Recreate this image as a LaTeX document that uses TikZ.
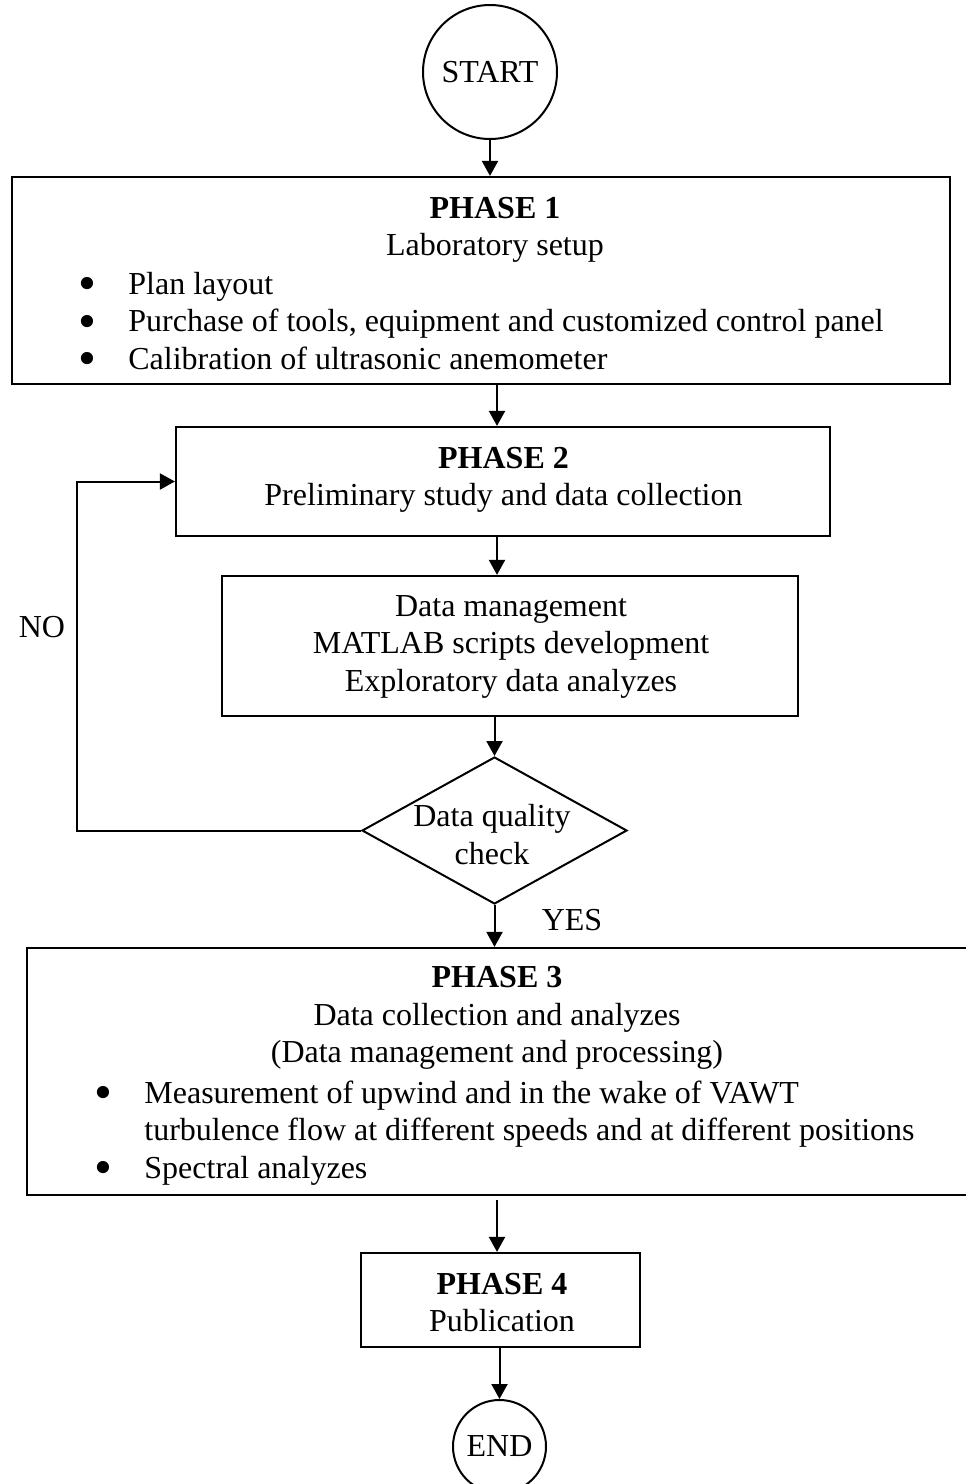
\documentclass[tikz,border=0pt]{standalone}
\usepackage{fontspec}
\setmainfont{Liberation Serif}
\usetikzlibrary{positioning,shapes.geometric,arrows.meta}

\newcommand{\itm}{\makebox[24.8pt][l]{\smash{\raisebox{-0.2em}{\scalebox{1.6}{\textbullet}}}}}

\begin{document}
\begin{tikzpicture}[
    x=0.5pt, y=-0.5pt,
    % Modern styling
    every node/.style={
        align=center,
        font=\fontsize{16}{18.75}\selectfont
    },
    % Custom styles for the flow chart
    phase box/.style={
        draw,
        line width=1.1pt,
        inner sep=0pt
    },
    terminal/.style={
        circle,
        draw,
        line width=1pt,
        inner sep=2pt
    },
    check/.style={
        diamond,
        draw,
        line width=1pt,
        inner sep=0pt
    },
    bullets/.style={
        align=left,
        anchor=west,
        inner sep=0pt
    },
    flow/.style={
        -{Triangle[width=8pt,length=7.5pt]},
        line width=1pt
    }
]
    \useasboundingbox (0,0) rectangle (965,1484);

    % Start and end
    \node[terminal, minimum size=67pt] (start) at (490,72) {START};
    \node[terminal, minimum size=46.5pt] (end) at (499.5,1446.5) {END};

    % Phase 1
    \node[phase box, minimum width=469pt, minimum height=103.5pt] (p1) at (481,280.5) {};
    \node (p1head) at (495,230) {\textbf{PHASE 1}\\Laboratory setup};
    \node[bullets] (p1list) at (78.4,321) {\itm Plan layout\\
        \itm Purchase of tools, equipment and customized control panel\\
        \itm Calibration of ultrasonic anemometer};

    % Phase 2 and data handling
    \node[phase box, minimum width=327pt, minimum height=54.5pt] (p2) at (503,481.5) {};
    \node (p2text) at (503.5,480) {\textbf{PHASE 2}\\Preliminary study and data collection};
    \node[phase box, minimum width=288pt, minimum height=70pt] (dm) at (510,646) {};
    \node (dmtext) at (511,646.5) {Data management\\MATLAB scripts development\\Exploratory data analyzes};

    % Decision
    \node[check, minimum width=132.5pt, minimum height=73.5pt] (dq) at (494.5,830.5) {};
    \node (dqtext) at (492,834.5) {Data quality\\check};
    \node (no) at (42,627) {NO};
    \node (yes) at (572,920) {YES};

    % Phase 3
    \node[phase box, minimum width=474pt, minimum height=123.5pt] (p3) at (501,1071.5) {};
    \node (p3head) at (497,1018) {\textbf{PHASE 3}\\Data collection and analyzes\\(Data management and processing)};
    \node[bullets] (p3list) at (94.4,1133) {\itm Measurement of upwind and in the wake of VAWT\\
        \hspace*{24.8pt}turbulence flow at different speeds and at different positions\\
        \itm Spectral analyzes};

    % Phase 4
    \node[phase box, minimum width=139.5pt, minimum height=47pt] (p4) at (500.5,1300) {};
    \node (p4text) at (502,1302.5) {\textbf{PHASE 4}\\Publication};

    % Connectors
    \coordinate (spine) at (497,0);
    \coordinate (loopx) at (77,0);
    \draw[flow] (start) -- (start |- p1.north);
    \draw[flow] (p1.south -| spine) -- (p2.north -| spine);
    \draw[flow] (p2.south -| spine) -- (dm.north -| spine);
    \draw[flow] (dm.south -| dq.north) -- (dq.north);
    \draw[flow] (dq.south) -- (dq.south |- p3.north);
    \draw[flow] (dq.west) -- (dq.west -| loopx) |- (p2.west);
    \draw[flow, shorten <=2pt] (p3.south -| spine) -- (p4.north -| spine);
    \draw[flow] (p4.south -| end) -- (end);
\end{tikzpicture}
\end{document}
